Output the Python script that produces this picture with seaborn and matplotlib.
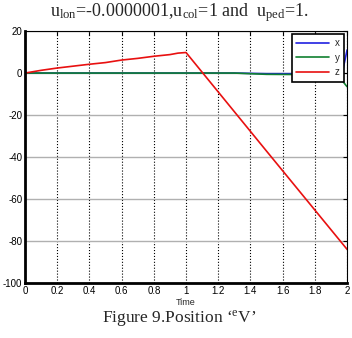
import pandas as pd
import seaborn as sns
import matplotlib.pyplot as plt

# values
t_x = [0, 0.5, 1.0, 1.3, 1.5, 1.7, 1.9, 1.97, 2.0]
v_x = [0, 0, 0, 0, -0.3, -0.3, -0.3, 0, 11]
t_y = [0, 0.5, 1.0, 1.3, 1.5, 1.7, 1.9, 1.94, 2.0]
v_y = [0, 0, 0, 0, -0.6, -0.7, -0.7, -0.8, -6.5]
t_z = [0, 0.1, 0.2, 0.3, 0.4, 0.5, 0.6, 0.7, 0.8, 0.9, 0.95, 1.0, 1.5, 2.0]
v_z = [0, 1.3, 2.4, 3.3, 4.2, 5.0, 6.2, 7.0, 8.0, 8.8, 9.5, 9.8, -37.2, -84]

x_ticks = [0, 0.2, 0.4, 0.6, 0.8, 1, 1.2, 1.4, 1.6, 1.8, 2]
x_labels = ['0', '0.2', '0.4', '0.6', '0.8', '1', '1.2', '1.4', '1.6', '1.8', '2']
y_ticks = [-100, -80, -60, -40, -20, 0, 20]

df = pd.concat([
    pd.DataFrame({'Time': t_x, 'value': v_x, 'var': 'x'}),
    pd.DataFrame({'Time': t_y, 'value': v_y, 'var': 'y'}),
    pd.DataFrame({'Time': t_z, 'value': v_z, 'var': 'z'}),
])

sns.set_style("white")
plt.rcParams['font.family'] = ['Liberation Sans', 'DejaVu Sans']
plt.rcParams['axes.unicode_minus'] = False
plt.rcParams['mathtext.fontset'] = 'custom'
plt.rcParams['mathtext.rm'] = 'Liberation Serif'
plt.rcParams['mathtext.it'] = 'Liberation Serif'

fig = plt.figure(figsize=(3.52, 3.38), dpi=100)
ax = fig.add_axes([0.071, 0.163, 0.915, 0.745])

sns.lineplot(data=df, x='Time', y='value', hue='var', sort=False,
             palette={'x': '#2020e0', 'y': '#108030', 'z': '#e81010'},
             linewidth=1.2, ax=ax)

ax.set_xlim(0, 2)
ax.set_ylim(-100, 20)
ax.set_xticks(x_ticks)
ax.set_xticklabels(x_labels)
ax.set_yticks(y_ticks)
ax.tick_params(direction='in', top=True, right=True, labelsize=7,
               length=3, width=0.8, pad=2, colors='black')
ax.xaxis.grid(True, linestyle=':', color='black', linewidth=0.8)
ax.yaxis.grid(True, linestyle='-', color='#b0b0b0', linewidth=1.0)
for side in ['left', 'bottom']:
    ax.spines[side].set_linewidth(2)
    ax.spines[side].set_color('black')
for side in ['top', 'right']:
    ax.spines[side].set_linewidth(0.8)
    ax.spines[side].set_color('black')
ax.set_xlabel('Time', fontsize=6.5, labelpad=2)
ax.set_ylabel('')

leg = ax.legend(loc='upper right', fontsize=7, fancybox=False, framealpha=1,
                edgecolor='black', handlelength=3.4, borderaxespad=0.3,
                labelspacing=0.45, handletextpad=0.6, borderpad=0.45)
leg.get_frame().set_linewidth(1.2)
leg.set_title(None)

fig.text(0.51, 0.962, r'u$_{\mathrm{lon}}$=-0.0000001,u$_{\mathrm{col}}$=1 and  u$_{\mathrm{ped}}$=1.',
         ha='center', va='center', fontsize=13, family='Liberation Serif')
fig.text(0.51, 0.058, r'Figure 9.Position ‘$^{\mathrm{e}}$V’',
         ha='center', va='center', fontsize=12.5, family='Liberation Serif')

fig.savefig('out.png', dpi=100)
